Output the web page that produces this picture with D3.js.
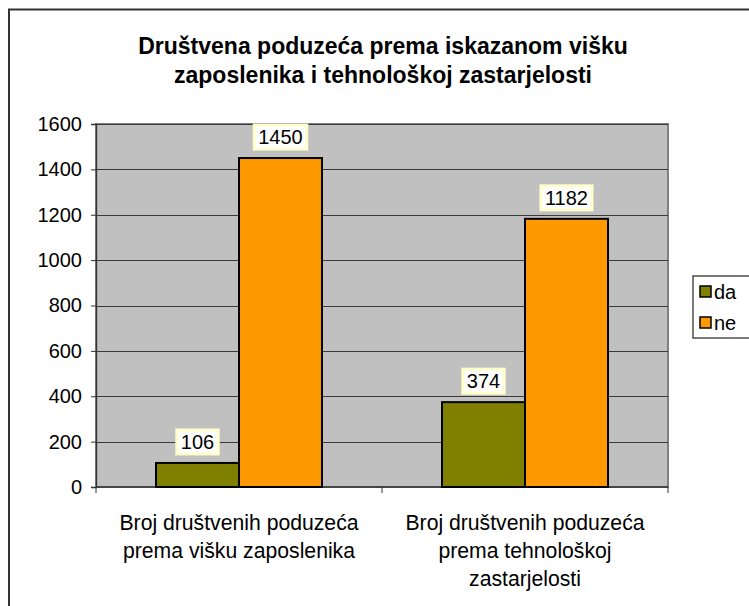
<!DOCTYPE html>
<html><head><meta charset="utf-8">
<script src="https://cdn.jsdelivr.net/npm/d3@7"></script>
<style>body{margin:0;background:#fff}svg{display:block}text{font-family:"Liberation Sans",Arial,sans-serif}</style>
</head><body>
<svg id="c" width="749" height="606"></svg>
<script>
const categories = [["Broj društvenih poduzeća","prema višku zaposlenika"],["Broj društvenih poduzeća","prema tehnološkoj","zastarjelosti"]];
const seriesNames = ["da","ne"];
const daValues = [106, 374];
const neValues = [1450, 1182];
const yTicks = [0,200,400,600,800,1000,1200,1400,1600];
const titleLines = ["Društvena poduzeća prema iskazanom višku","zaposlenika i tehnološkoj zastarjelosti"];
const colors = ["#808000","#ff9900"];
const FS = 20;

const svg = d3.select("#c");
svg.append("rect").attr("x",9).attr("y",9.5).attr("width",800).attr("height",700)
  .attr("fill","#fff").attr("stroke","#333").attr("stroke-width",2);

const L=96,R=668,T=124,B=487;
const x0 = d3.scaleBand().domain(d3.range(categories.length)).range([L,R]).paddingInner(0).paddingOuter(0);
const x1 = d3.scaleBand().domain(seriesNames).range([0,x0.bandwidth()]).paddingInner(0).paddingOuter(0.723);
const y = d3.scaleLinear().domain([0,1600]).range([B,T]);

svg.append("rect").attr("x",L).attr("y",T).attr("width",R-L).attr("height",B-T).attr("fill","#c0c0c0")
  .attr("stroke","#808080").attr("stroke-width",2);
svg.append("g").selectAll("line").data(yTicks.filter(v=>v>0)).join("line")
  .attr("x1",L).attr("x2",R).attr("y1",d=>Math.round(y(d))+0.5).attr("y2",d=>Math.round(y(d))+0.5)
  .attr("stroke","#3a3a3a").attr("stroke-width",1.2);

const ya = svg.append("g").attr("transform",`translate(${L},0)`)
  .call(d3.axisLeft(y).tickValues(yTicks).tickFormat(d3.format("d")).tickSize(5).tickPadding(9));
ya.attr("font-size",FS).attr("font-family","Liberation Sans, Arial, sans-serif");
ya.select(".domain").attr("stroke","#333").attr("stroke-width",1.3);
ya.selectAll(".tick line").attr("stroke","#333");
ya.selectAll("text").attr("fill","#000");

const xa = svg.append("g").attr("transform",`translate(0,${B})`);
xa.append("line").attr("x1",L).attr("x2",R).attr("stroke","#333").attr("stroke-width",1.3);
xa.selectAll("line.t").data([L,(L+R)/2,R]).join("line").attr("class","t")
  .attr("x1",d=>d).attr("x2",d=>d).attr("y1",0).attr("y2",6).attr("stroke","#333");
categories.forEach((lines,i)=>{
  const cx = x0(i)+x0.bandwidth()/2;
  const t = xa.append("text").attr("x",cx).attr("y",43).attr("text-anchor","middle")
    .attr("font-size",21.2).attr("fill","#000");
  lines.forEach((ln,j)=>t.append("tspan").attr("x",cx).attr("dy",j?28:0).text(ln));
});

const data = categories.map((c,i)=>({i, vals:[daValues[i],neValues[i]]}));
const groups = svg.append("g").selectAll("g").data(data).join("g").attr("transform",d=>`translate(${x0(d.i)},0)`);
groups.selectAll("rect").data(d=>d.vals.map((v,k)=>({k,v}))).join("rect")
  .attr("x",d=>x1(seriesNames[d.k])).attr("width",x1.bandwidth())
  .attr("y",d=>y(d.v)).attr("height",d=>B-y(d.v))
  .attr("fill",d=>colors[d.k]).attr("stroke","#000").attr("stroke-width",2);
groups.each(function(d){
  const g = d3.select(this);
  d.vals.forEach((v,k)=>{
    const cx = x1(seriesNames[k])+x1.bandwidth()/2;
    const lg = g.append("g");
    const txt = lg.append("text").attr("x",cx).attr("y",y(v)-14).attr("text-anchor","middle")
      .attr("font-size",FS).attr("fill","#000").text(v);
    const bb = txt.node().getBBox();
    lg.insert("rect","text").attr("x",bb.x-4).attr("y",bb.y-1).attr("width",bb.width+8).attr("height",bb.height+2)
      .attr("fill","#fff").attr("stroke","#ffffcc").attr("stroke-width",3);
  });
});

const tt = svg.append("text").attr("x",383).attr("y",54).attr("text-anchor","middle")
  .attr("font-size",23).attr("font-weight","bold").attr("fill","#000");
titleLines.forEach((ln,j)=>tt.append("tspan").attr("x",383).attr("dy",j?29:0).text(ln));

const lgd = svg.append("g");
lgd.append("rect").attr("x",693).attr("y",276).attr("width",80).attr("height",62).attr("fill","#fff")
  .attr("stroke","#333").attr("stroke-width",1.3);
seriesNames.forEach((s,k)=>{
  const yy = 292 + k*31;
  lgd.append("rect").attr("x",700).attr("y",yy-6).attr("width",11).attr("height",11)
    .attr("fill",colors[k]).attr("stroke","#000").attr("stroke-width",1.5);
  lgd.append("text").attr("x",714).attr("y",yy+7).attr("font-size",FS).attr("fill","#000").text(s);
});
</script>
</body></html>
